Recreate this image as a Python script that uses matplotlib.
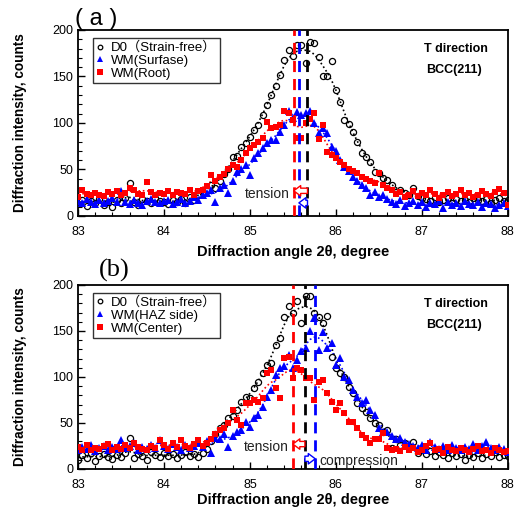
import numpy as np
import matplotlib
matplotlib.use("Agg")
import matplotlib.pyplot as plt
from matplotlib.ticker import MultipleLocator

plt.rcParams['font.family'] = ['Liberation Sans', 'Noto Sans CJK SC', 'DejaVu Sans']

# ---------------- data (2theta grid 83.00 .. 88.00, step 0.05) ----------------
angle_start, angle_stop = 83.0, 88.0

a_d0 = [13, 17, 11, 16, 14, 18, 12, 15, 10, 17, 14, 19, 35, 15, 12, 18, 16, 14, 19, 16,
        15, 13, 17, 15, 18, 14, 20, 17, 22, 25, 28, 33, 30, 38, 45, 50, 63, 64, 74, 78,
        85, 92, 98, 108, 119, 130, 140, 152, 168, 178, 172, 184, 184, 165, 187, 186, 171, 150, 150, 167,
        135, 123, 103, 99, 90, 80, 68, 63, 58, 47, 46, 41, 39, 33, 26, 28, 25, 22, 30, 21,
        19, 18, 16, 20, 15, 17, 19, 14, 18, 16, 17, 15, 19, 17, 16, 18, 14, 17, 19, 16, 17]
a_surf = [16, 14, 18, 15, 13, 17, 14, 16, 19, 15, 27, 15, 13, 17, 14, 12, 16, 18, 15, 14,
          16, 17, 13, 15, 18, 14, 16, 20, 17, 22, 25, 28, 15, 30, 33, 25, 38, 47, 50, 55,
          44, 62, 68, 73, 78, 82, 82, 90, 98, 113, 105, 112, 108, 111, 113, 100, 89, 95, 89, 74,
          70, 60, 53, 48, 42, 38, 33, 30, 23, 26, 20, 22, 18, 15, 13, 17, 11, 14, 16, 12,
          15, 10, 14, 13, 16, 9, 15, 12, 14, 11, 16, 13, 12, 15, 10, 14, 13, 9, 12, 14, 11]
a_root = [20, 28, 24, 22, 25, 23, 21, 26, 24, 27, 22, 25, 30, 28, 24, 23, 36, 26, 22, 25,
          24, 27, 23, 26, 25, 24, 28, 22, 27, 28, 32, 44, 38, 42, 45, 50, 55, 53, 60, 68,
          73, 76, 80, 84, 101, 95, 96, 98, 113, 111, 103, 84, 84, 100, 104, 111, 83, 98, 69, 65,
          62, 58, 55, 50, 48, 46, 42, 40, 38, 35, 46, 33, 30, 28, 24, 26, 20, 23, 27, 21,
          25, 22, 28, 24, 19, 23, 26, 21, 24, 28, 22, 25, 20, 23, 27, 24, 21, 26, 29, 25, 12]

b_d0 = [10, 15, 12, 17, 9, 14, 16, 13, 11, 15, 13, 17, 34, 12, 16, 14, 10, 18, 15, 13,
        17, 14, 16, 12, 15, 18, 14, 16, 13, 17, 22, 30, 38, 45, 48, 55, 58, 64, 73, 78,
        77, 88, 95, 104, 113, 115, 135, 142, 165, 177, 170, 183, 159, 188, 188, 170, 165, 159, 166, 122,
        110, 104, 100, 89, 82, 72, 66, 62, 55, 50, 48, 40, 42, 23, 32, 26, 28, 24, 29, 17,
        21, 16, 19, 14, 18, 15, 12, 17, 14, 16, 10, 15, 13, 17, 12, 16, 14, 18, 13, 15, 14]
b_haz = [20, 24, 22, 26, 19, 23, 25, 21, 24, 22, 31, 23, 25, 28, 21, 24, 22, 26, 23, 31,
         25, 22, 27, 24, 21, 26, 23, 25, 28, 24, 30, 17, 34, 32, 38, 24, 36, 40, 42, 51,
         46, 55, 59, 67, 78, 86, 102, 110, 112, 124, 110, 118, 128, 131, 150, 164, 129, 149, 131, 137,
         113, 121, 100, 97, 86, 78, 72, 75, 64, 59, 45, 40, 40, 36, 33, 34, 29, 27, 25, 23,
         26, 21, 29, 24, 22, 25, 21, 26, 23, 20, 24, 22, 27, 21, 25, 29, 23, 20, 24, 22, 18]
b_center = [24, 21, 26, 20, 23, 22, 25, 27, 21, 24, 22, 26, 23, 28, 24, 22, 21, 25, 23, 31,
            26, 22, 28, 24, 31, 25, 23, 27, 31, 25, 28, 32, 38, 42, 45, 50, 64, 53, 48, 72,
            72, 75, 73, 77, 104, 108, 88, 77, 121, 122, 99, 110, 108, 99, 99, 75, 95, 97, 82, 73,
            64, 72, 61, 51, 51, 45, 37, 34, 28, 32, 32, 39, 23, 21, 22, 19, 24, 20, 23, 18,
            21, 25, 28, 20, 22, 17, 24, 21, 19, 23, 20, 18, 22, 25, 19, 21, 17, 23, 20, 18, 19]

# peak positions (vertical dashed lines)
a_peaks = {'d0': 85.67, 'wm1': 85.57, 'wm2': 85.51}
b_peaks = {'d0': 85.64, 'wm1': 85.76, 'wm2': 85.50}

a_labels = ['D0\uff08Strain-free\uff09', 'WM(Surfase)', 'WM(Root)']
b_labels = ['D0\uff08Strain-free\uff09', 'WM(HAZ side)', 'WM(Center)']

xticks = [83, 84, 85, 86, 87, 88]
yticks = [0, 50, 100, 150, 200]


def smooth(x, y, bw=0.09):
    y = np.asarray(y, float)
    w = np.exp(-0.5 * ((x[:, None] - x[None, :]) / bw) ** 2)
    return (w * y[None, :]).sum(1) / w.sum(1)


ARROW = 'simple,head_length=0.5,head_width=0.75,tail_width=0.38'


def panel(ax, d0, wm1, wm2, labels, peaks, compression, xlabelpad):
    x = np.linspace(angle_start, angle_stop, len(d0))
    for y, c in ((d0, 'black'), (wm1, 'blue'), (wm2, 'red')):
        ax.plot(x, smooth(x, y), ls=(0, (1, 1.6)), color=c, lw=1.2, zorder=2)
    h0, = ax.plot(x, d0, 'o', mfc='none', mec='black', ms=4.4, mew=0.9, zorder=3, label=labels[0])
    h1, = ax.plot(x, wm1, '^', color='blue', ms=6, mew=0, zorder=3, label=labels[1])
    h2, = ax.plot(x, wm2, 's', color='red', ms=5, mew=0, zorder=3, label=labels[2])

    ax.axvline(peaks['wm2'], color='red', ls=(0, (4, 2.5)), lw=2, zorder=4)
    ax.axvline(peaks['wm1'], color='blue', ls=(0, (4, 2.5)), lw=2, zorder=4)
    ax.axvline(peaks['d0'], color='black', ls=(0, (4, 2.5)), lw=2, zorder=4)

    ax.annotate('', xy=(peaks['wm2'], 27), xytext=(peaks['d0'], 27),
                arrowprops=dict(arrowstyle=ARROW, fc='white', ec='red', lw=1,
                                shrinkA=0, shrinkB=0), zorder=5)
    ax.text(peaks['wm2'] - 0.05, 24, 'tension', ha='right', va='center', fontsize=10,
            color='#222222')
    if compression:
        ax.annotate('', xy=(peaks['wm1'], 11), xytext=(peaks['d0'], 11),
                    arrowprops=dict(arrowstyle=ARROW, fc='white', ec='blue', lw=1,
                                    shrinkA=0, shrinkB=0), zorder=5)
        ax.text(peaks['wm1'] + 0.05, 9, 'compression', ha='left', va='center', fontsize=10,
                color='#222222')
    else:
        ax.annotate('', xy=(peaks['wm1'], 14), xytext=(peaks['d0'], 14),
                    arrowprops=dict(arrowstyle=ARROW, fc='white', ec='blue', lw=1,
                                    shrinkA=0, shrinkB=0), zorder=5)

    ax.set_xlim(83, 88)
    ax.set_ylim(0, 200)
    ax.set_xticks(xticks)
    ax.set_yticks(yticks)
    ax.xaxis.set_minor_locator(MultipleLocator(0.2))
    ax.yaxis.set_minor_locator(MultipleLocator(10))
    ax.tick_params(which='both', direction='in', labelsize=9)
    ax.tick_params(which='major', length=5, width=1)
    ax.tick_params(which='minor', length=3, width=0.8)
    ax.tick_params(axis='x', pad=7)
    for s in ax.spines.values():
        s.set_linewidth(1.3)
    ax.set_xlabel('Diffraction angle 2\u03b8, degree', fontsize=10.5, fontweight='bold',
                  labelpad=xlabelpad)
    ax.set_ylabel('Diffraction intensity, counts', fontsize=9.8, fontweight='bold', labelpad=18)
    leg = ax.legend(handles=[h0, h1, h2], loc='upper left', bbox_to_anchor=(0.035, 0.955),
                    fontsize=9.5, frameon=True, fancybox=False, edgecolor='black',
                    handlelength=0.6, handletextpad=0.5, borderpad=0.25, labelspacing=0.05,
                    markerscale=0.75, borderaxespad=0)
    leg.get_frame().set_linewidth(1)
    ax.text(0.953, 0.895, 'T direction', transform=ax.transAxes, ha='right', va='center',
            fontsize=9, fontweight='bold')
    ax.text(0.94, 0.785, 'BCC(211)', transform=ax.transAxes, ha='right', va='center',
            fontsize=9, fontweight='bold')


fig = plt.figure(figsize=(5.23, 5.08), dpi=100)
ax1 = fig.add_axes([0.149, 0.575, 0.822, 0.366])
ax2 = fig.add_axes([0.149, 0.077, 0.822, 0.362])

panel(ax1, a_d0, a_surf, a_root, a_labels, a_peaks, compression=False, xlabelpad=5)
panel(ax2, b_d0, b_haz, b_center, b_labels, b_peaks, compression=True, xlabelpad=2)

fig.text(0.143, 0.963, '( a )', fontsize=17, ha='left', va='center')
fig.text(0.19, 0.468, '(b)', fontsize=19, ha='left', va='center', family='Liberation Serif')

fig.savefig('out.png', dpi=100)
